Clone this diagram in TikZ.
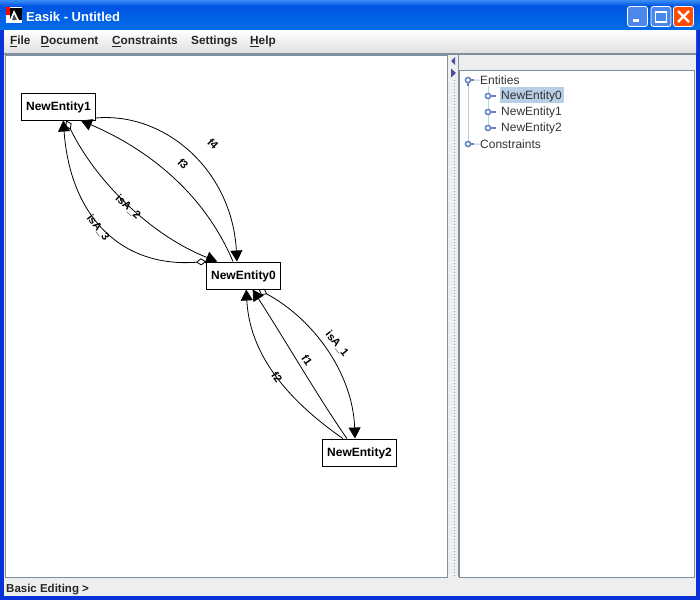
\documentclass[tikz,border=0pt]{standalone}
\usepackage{fontspec}
\setmainfont{Liberation Sans}
\usetikzlibrary{arrows.meta,positioning}
\definecolor{xpblue}{HTML}{0054E3}
\definecolor{xpedge}{HTML}{0831D9}
\definecolor{xptop}{HTML}{3A8CF5}
\definecolor{panelgrey}{HTML}{EEEEEE}
\definecolor{borderblue}{HTML}{7F8F9E}
\definecolor{treeline}{HTML}{B8CFE5}
\definecolor{treeknob}{HTML}{6382BF}
\begin{document}
\begin{tikzpicture}[x=1pt,y=-1pt]
\tikzset{
	entbox/.style={draw,fill=white,line width=1pt,minimum width=74pt,minimum height=27pt,inner sep=0pt,text depth=0pt,font=\bfseries\fontsize{12}{14}\selectfont},
	entedge/.style={line width=0.8pt,-{Triangle[length=11pt,width=12pt]}},
	isaedge/.style={entedge,{Diamond[open,length=10pt,width=7pt]}-{Triangle[length=11pt,width=12pt]}},
	edgetext/.style={inner sep=0pt,font=\bfseries\fontsize{11}{12}\selectfont},
	menuitem/.style={anchor=west,inner sep=0pt,text=black!85,font=\bfseries\fontsize{11.8}{14}\selectfont},
	treeitem/.style={anchor=west,inner sep=0pt,text=black!80,font=\fontsize{12}{14}\selectfont},
	treeknob/.style={circle,draw=treeknob,fill=white,line width=1.4pt,minimum size=5pt,inner sep=0pt},
	treeedge/.style={draw=treeline,line width=1pt},
	knobtail/.style={draw=treeknob,line width=1.4pt},
	winbutton/.style={rounded corners=2.5pt,draw=white,line width=0.8pt}
}
% window
\path[use as bounding box,fill=xpblue] (0,0) rectangle (700,600);
\fill[top color=xptop,bottom color=xpblue] (0,0) rectangle (700,6);
\fill[top color=xpblue,bottom color=xpblue!85!cyan] (0,6) rectangle (700,30);
\fill[xpedge] (0,30) rectangle (4,600);
\fill[xpedge] (696,30) rectangle (700,600);
\fill[xpedge] (0,596) rectangle (700,600);
\fill[top color=white,bottom color=black!12] (4,30) rectangle (696,53);
\fill[panelgrey] (4,53) rectangle (696,596);
\fill[borderblue] (4,53) rectangle (696,54.5);
% title bar
\fill[white] (6,7) rectangle (22,23);
\fill[black] (10,8) rectangle (22,20);
\fill[red] (6,7) rectangle (10,15);
\fill[white] (9,22) -- (14,10) -- (20,22) -- cycle;
\fill[black!70] (12,20) -- (14,14) -- (17,20) -- cycle;
\node[anchor=west,inner sep=0pt,text=white,font=\bfseries\fontsize{13}{15}\selectfont] (wintitle) at (26,17) {Easik - Untitled};
\fill[winbutton,fill=xpblue!70!white] (627.5,6.5) rectangle (647.5,26.5);
\fill[white] (633,19) rectangle (639,22);
\fill[winbutton,fill=xpblue!70!white] (651,6.5) rectangle (671,26.5);
\draw[white,line width=1.2pt] (655.5,11.5) rectangle (666.5,22);
\draw[white,line width=2.5pt] (655.5,12) -- (666.5,12);
\fill[winbutton,fill=orange!60!red] (673.5,6.5) rectangle (693.5,26.5);
\draw[white,line width=2.2pt] (678,11) -- (689,22) (689,11) -- (678,22);
% menu
\node[menuitem] (mfile) at (10,41.5) {\underline{F}ile};
\node[menuitem] (mdoc) at (40.5,41.5) {\underline{D}ocument};
\node[menuitem] (mcons) at (112,41.5) {\underline{C}onstraints};
\node[menuitem] (mset) at (191,41.5) {Settings};
\node[menuitem] (mhelp) at (250,41.5) {\underline{H}elp};
% panes
\draw[borderblue,fill=white,line width=1pt] (5.5,55) rectangle (447,577);
\draw[borderblue,fill=white,line width=1pt] (459.5,70) rectangle (694,577);
\draw[borderblue,line width=1pt] (458.5,54) -- (458.5,577);
\draw[black!40,line width=1pt,dash pattern=on 1pt off 2pt] (454.5,80) -- (454.5,577);
\fill[blue!45!black!70] (455,57) -- (451,61) -- (455,65) -- cycle;
\fill[blue!45!black!70] (451,68.5) -- (456,73) -- (451,77.5) -- cycle;
\node[anchor=west,inner sep=0pt,text=black!85,font=\bfseries\fontsize{11.5}{14}\selectfont] (statusline) at (6,589.5) {Basic Editing >};
% tree
\fill[treeline] (500,87) rectangle (564,103);
\node[treeknob] (troot) at (468,80) {};
\node[treeknob] (tcons) at (468,144) {};
\node[treeknob] (tzero) at (488,96) {};
\node[treeknob] (tone) at (488,112) {};
\node[treeknob] (ttwo) at (488,128) {};
\node[treeitem] (lroot) at (480,80.5) {Entities};
\node[treeitem] (lzero) at (501,96.5) {NewEntity0};
\node[treeitem] (lone) at (501,112.5) {NewEntity1};
\node[treeitem] (ltwo) at (501,128.5) {NewEntity2};
\node[treeitem] (lcons) at (480,144.5) {Constraints};
\draw[treeedge] (troot) -- (tcons);
\draw[treeedge] (488,86) -- (ttwo);
\draw[treeedge] (troot) -- (lroot);
\draw[treeedge] (tcons) -- (lcons);
\draw[knobtail] (troot.east) -- ++(3,0);
\draw[knobtail] (troot.south) -- ++(0,2.5);
\draw[knobtail] (tcons.east) -- ++(3,0);
\draw[knobtail] (tzero.east) -- ++(5,0);
\draw[knobtail] (tone.east) -- ++(5,0);
\draw[knobtail] (ttwo.east) -- ++(5,0);
\node[treeknob] at (468,80) {};
\node[treeknob] at (468,144) {};
\node[treeknob] at (488,96) {};
\node[treeknob] at (488,112) {};
\node[treeknob] at (488,128) {};
% entities
\node[entbox] (ent1) at (58.5,106.5) {NewEntity1};
\node[entbox] (ent0) at (243.5,275.5) {NewEntity0};
\node[entbox] (ent2) at (359.5,452.5) {NewEntity2};
% edges
\draw[entedge] (ent1.-17.5) .. controls (165,112) and (232,170) .. (ent0.115.7);
\draw[entedge] (ent0.127.9) .. controls (205,195) and (150,150) .. (ent1.-32);
\draw[isaedge] (ent1.-61) .. controls (95,180) and (150,235) .. (ent0.152);
\draw[isaedge] (ent0.north west) .. controls (120,268) and (70,215) .. (ent1.-71.6);
\draw[isaedge] (ent0.-43) .. controls (315,320) and (353,375) .. (ent2.108.4);
\draw[entedge] (ent2.132.8) .. controls (320,400) and (285,340) .. (ent0.-57.8);
\draw[entedge] (ent2.140.7) .. controls (295,405) and (250,360) .. (ent0.-79.5);
% edge labels
\node[edgetext,rotate=-45] (lf4) at (213,144) {f4};
\node[edgetext,rotate=-45] (lf3) at (183,164) {f3};
\node[edgetext,rotate=-42] (lisa2) at (128,207) {isA\_2};
\node[edgetext,rotate=-52] (lisa3) at (98,228) {isA\_3};
\node[edgetext,rotate=-50] (lisa1) at (337,344) {isA\_1};
\node[edgetext,rotate=-55] (lf1) at (307,360) {f1};
\node[edgetext,rotate=-55] (lf2) at (277,377) {f2};
\end{tikzpicture}
\end{document}
